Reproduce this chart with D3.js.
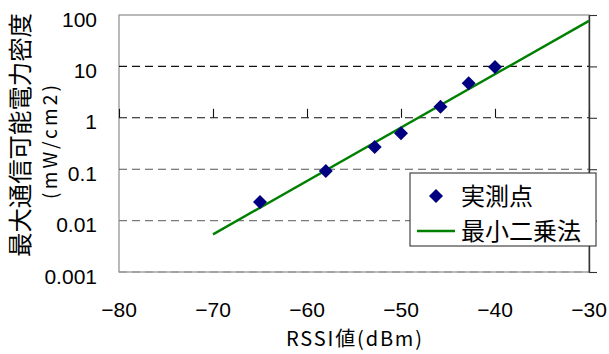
<!DOCTYPE html>
<html>
<head>
<meta charset="utf-8">
<script src="https://cdn.jsdelivr.net/npm/d3@7"></script>
<style>
  html, body { margin: 0; padding: 0; background: #fff; }
  svg { display: block; }
  .num { font-family: "Liberation Sans", Arial, sans-serif; fill: #000; }
  .jp { font-family: "Noto Sans CJK JP", sans-serif; fill: #000; }
</style>
</head>
<body>
<svg id="chart" width="609" height="354"></svg>
<script>
// Measured points: RSSI (dBm) vs. maximum communicable power density (mW/cm2)
const rssi = [-65, -58, -52.8, -50, -45.8, -42.8, -40];
const density = [0.023, 0.092, 0.27, 0.5, 1.64, 4.7, 9.7];

// Least-squares fit line end points
const fitRssi = [-70, -30];
const fitDensity = [0.0054, 77];

// Axis ticks
const xTicks = [-80, -70, -60, -50, -40, -30];
const xTickLabels = ["−80", "−70", "−60", "−50", "−40", "−30"];
const yTicks = [100, 10, 1, 0.1, 0.01, 0.001];
const yTickLabels = ["100", "10", "1", "0.1", "0.01", "0.001"];

const legendLabels = ["実測点", "最小二乗法"];

const svg = d3.select("#chart");
const plotL = 119, plotR = 589, plotT = 15, plotB = 272;

const x = d3.scaleLinear().domain([-80, -30]).range([plotL, plotR]);
const y = d3.scaleLog().domain([0.001, 100]).range([plotB, plotT]);

// Plot area frame
svg.append("rect")
  .attr("x", plotL).attr("y", plotT)
  .attr("width", plotR - plotL).attr("height", plotB - plotT)
  .attr("fill", "#fff").attr("stroke", "#8c8c8c").attr("stroke-width", 1.2);

// Dashed horizontal gridlines
const gridColor = { 10: "#111", 1: "#111", 0.1: "#555", 0.01: "#7a7a7a", 0.001: "#8c8c8c" };
svg.append("g").selectAll("line")
  .data([10, 1, 0.1, 0.01, 0.001])
  .join("line")
  .attr("x1", plotL).attr("x2", plotR)
  .attr("y1", d => y(d)).attr("y2", d => y(d))
  .attr("stroke", d => gridColor[d])
  .attr("stroke-width", 1.1)
  .attr("stroke-dasharray", "8,5");

// X axis crossing at y = 1, ticks pointing up
const xAxis = svg.append("g")
  .attr("transform", `translate(0,${y(1)})`)
  .call(d3.axisTop(x).tickValues(xTicks).tickSize(9).tickFormat(""));
xAxis.select(".domain").remove();
xAxis.selectAll(".tick line").attr("stroke", "#111").attr("stroke-width", 1.1);

// Y axis on the right edge, ticks pointing out
const yAxis = svg.append("g")
  .attr("transform", `translate(${plotR},0)`)
  .call(d3.axisRight(y).tickValues(yTicks).tickSize(8).tickSizeOuter(0).tickFormat(""));
yAxis.select(".domain").attr("stroke", "#333").attr("stroke-width", 1.4);
yAxis.selectAll(".tick line").attr("stroke", "#333").attr("stroke-width", 1.1);

// Y tick labels
svg.append("g").selectAll("text")
  .data(yTicks)
  .join("text")
  .attr("class", "num")
  .attr("x", 97)
  .attr("y", d => y(d) + 11.5)
  .attr("text-anchor", "end")
  .attr("font-size", 21)
  .text((d, i) => yTickLabels[i]);

// X tick labels
svg.append("g").selectAll("text")
  .data(xTicks)
  .join("text")
  .attr("class", "num")
  .attr("x", d => x(d))
  .attr("y", 317)
  .attr("text-anchor", "middle")
  .attr("font-size", 21)
  .text((d, i) => xTickLabels[i]);

// Axis titles
svg.append("text")
  .attr("class", "jp")
  .attr("x", 354).attr("y", 346)
  .attr("text-anchor", "middle")
  .attr("font-size", 20)
  .attr("textLength", 136)
  .attr("lengthAdjust", "spacing")
  .text("RSSI値(dBm)");

svg.append("text")
  .attr("class", "jp")
  .attr("transform", "translate(29,135) rotate(-90)")
  .attr("text-anchor", "middle")
  .attr("font-size", 24.4)
  .text("最大通信可能電力密度");

svg.append("text")
  .attr("class", "jp")
  .attr("transform", "translate(57,142) rotate(-90)")
  .attr("text-anchor", "middle")
  .attr("font-size", 19)
  .attr("textLength", 114)
  .attr("lengthAdjust", "spacing")
  .text("(mW/cm2)");

// Fit line
const line = d3.line().x(d => x(d[0])).y(d => y(d[1]));
svg.append("path")
  .datum(fitRssi.map((v, i) => [v, fitDensity[i]]))
  .attr("d", line)
  .attr("fill", "none")
  .attr("stroke", "#008000")
  .attr("stroke-width", 2.4);

// Diamond markers
const diamond = (cx, cy, r) => `M${cx},${cy - r}L${cx + r},${cy}L${cx},${cy + r}L${cx - r},${cy}Z`;
svg.append("g").selectAll("path")
  .data(rssi.map((v, i) => [v, density[i]]))
  .join("path")
  .attr("d", d => diamond(x(d[0]), y(d[1]), 7))
  .attr("fill", "#000080");

// Legend
const lg = svg.append("g");
lg.append("rect")
  .attr("x", 410).attr("y", 173).attr("width", 186).attr("height", 73)
  .attr("fill", "#fff").attr("stroke", "#333").attr("stroke-width", 1.1);
lg.append("path").attr("d", diamond(436, 196, 7)).attr("fill", "#000080");
lg.append("line")
  .attr("x1", 417).attr("x2", 455).attr("y1", 231).attr("y2", 231)
  .attr("stroke", "#008000").attr("stroke-width", 2.4);
lg.selectAll("text.lab")
  .data(legendLabels)
  .join("text")
  .attr("class", "jp lab")
  .attr("x", 461)
  .attr("y", (d, i) => 196 + i * 35)
  .attr("dy", "0.36em")
  .attr("font-size", 24)
  .text(d => d);
</script>
</body>
</html>
